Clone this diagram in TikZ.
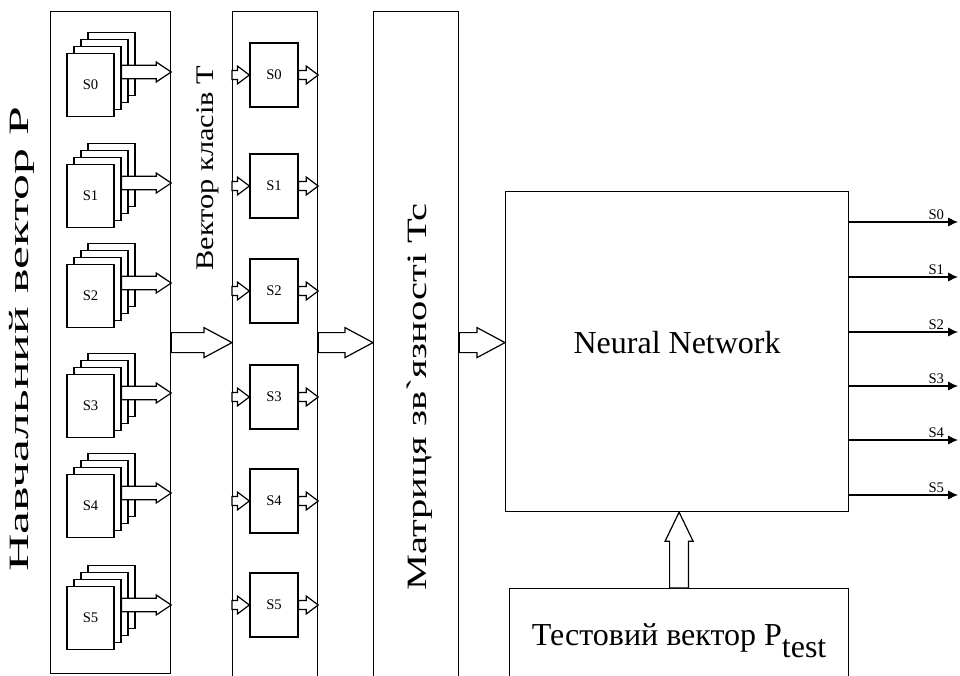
\documentclass[tikz,border=0pt]{standalone}
\usepackage{fontspec}
\setmainfont{Liberation Serif}
\usepackage{graphicx}
\usetikzlibrary{positioning,calc,arrows.meta}

\newcommand{\hollowarrow}[5]{\draw[fill=white] let \p1=(#1), \p2=(#2) in
  (\x1,\y1-#3) -- (\x2-#5,\y1-#3) -- (\x2-#5,\y1-#4) -- (\x2,\y1) -- (\x2-#5,\y1+#4) -- (\x2-#5,\y1+#3) -- (\x1,\y1+#3) -- cycle;}
\newcommand{\hollowup}[5]{\draw[fill=white] let \p1=(#1), \p2=(#2) in
  (\x1-#3,\y1) -- (\x1-#3,\y2-#5) -- (\x1-#4,\y2-#5) -- (\x1,\y2) -- (\x1+#4,\y2-#5) -- (\x1+#3,\y2-#5) -- (\x1+#3,\y1) -- cycle;}

\begin{document}
\begin{tikzpicture}[x=0.75pt,y=-0.75pt,line width=0.9pt,
  every node/.style={font=\fontsize{11}{11}\selectfont},
  frame/.style={draw,anchor=north west,inner sep=0pt},
  page/.style={draw,fill=white,minimum width=35.25pt,minimum height=47.25pt,inner sep=0pt},
  cls/.style={draw,minimum width=36pt,minimum height=48pt,inner sep=0pt},
  big/.style={font=\fontsize{24}{24}\selectfont}]
\useasboundingbox (0,0) rectangle (960,675);
\node[frame,minimum width=90pt,minimum height=496.5pt] (nav) at (50,11) {};
\node[frame,minimum width=63.75pt,minimum height=520pt] (vec) at (232,11) {};
\node[frame,minimum width=63.75pt,minimum height=520pt] (mat) at (373,11) {};
\node[frame,big,text depth=13.5pt,minimum width=257.25pt,minimum height=240pt] (nn) at (505,191) {Neural Network};
\node[frame,minimum width=254.25pt,minimum height=90pt] (test) at (509,588) {};
\node[big,anchor=base] (testlbl) at ($(test.north)+(0,57)$) {Тестовий вектор P\raisebox{-9pt}{test}};

\node[rotate=90] (navlbl) at (22,339) {\scalebox{1.85}[1]{\fontsize{21}{21}\selectfont Навчальний вектор P}};
\node[rotate=90] (veclbl) at (208,168) {\scalebox{1.2}[1]{\fontsize{19}{19}\selectfont Вектор класів T}};
\node[rotate=90] (matlbl) at (420,397) {\scalebox{1.45}[1]{\fontsize{21}{21}\selectfont Матриця зв\textasciigrave язності Tc}};

\foreach \i/\y in {0/85,1/196,2/296,3/406,4/506,5/618} {
  \foreach \k in {3,2,1} \node[page] at (90.5+7*\k,\y-7*\k) {};
  \node[page] (p\i) at (90.5,\y) {S\i};
  \hollowarrow{$(p\i.east)+(7,-13)$}{nav.east}{5pt}{7.5pt}{11.25pt}
}
\foreach \i/\y in {0/75,1/186,2/291,3/397,4/501,5/605} {
  \node[cls] (c\i) at (274,\y) {S\i};
  \hollowarrow{vec.west |- c\i.west}{c\i.west}{3.4pt}{6.75pt}{9pt}
  \hollowarrow{c\i.east}{vec.east}{3.4pt}{6.75pt}{9pt}
}
\hollowarrow{nav.east}{vec.west}{7.5pt}{11.25pt}{21pt}
\hollowarrow{vec.east |- nav.east}{mat.west}{7.5pt}{11.25pt}{21pt}
\hollowarrow{mat.east |- nav.east}{nn.west}{7.5pt}{11.25pt}{21pt}
\hollowup{test.north}{nn.south -| test.north}{7.1pt}{10.5pt}{21.75pt}

\foreach \i/\y in {0/222,1/277,2/332,3/386,4/440,5/495} {
  \coordinate (o\i) at (958,\y);
  \draw[-{Latex[length=7.5pt,width=7pt]}] (nn.east |- o\i) -- (o\i) node[pos=0.8,above,inner sep=1.5pt] {S\i};
}
\end{tikzpicture}
\end{document}
